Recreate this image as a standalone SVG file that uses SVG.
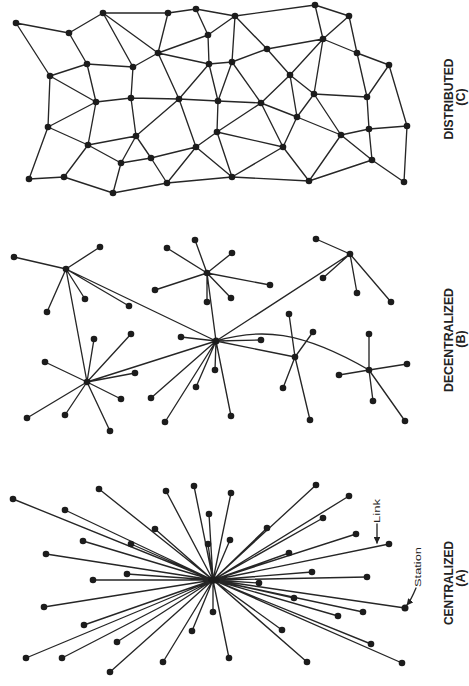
<svg xmlns="http://www.w3.org/2000/svg" width="469" height="686" viewBox="0 0 469 686">
<style>
.l{stroke:#262626;stroke-width:1.35;fill:none;stroke-linecap:round}
.n{fill:#1c1c1c}
.t{font-family:"Liberation Sans Narrow","Liberation Sans",Arial,sans-serif;font-weight:bold;fill:#222;text-anchor:middle}
.s{font-family:"Liberation Sans Narrow","Liberation Sans",Arial,sans-serif;font-weight:normal;fill:#222;text-anchor:middle}
</style>
<defs>
<marker id="ah" viewBox="0 0 10 10" refX="9" refY="5" markerWidth="5" markerHeight="5" orient="auto"><path d="M0,0L10,5L0,10z" fill="#222"/></marker>
</defs>
<rect width="469" height="686" fill="#fff"/>
<g id="connectors">
<!-- Distributed -->
<path class="l" d="M16,23L69,33M16,23L50,76M69,33L103,13M69,33L87,64M103,13L168,13M103,13L133,67M103,13L158,53M168,13L196,9M168,13L158,53M196,9L235,16M196,9L208,35M208,35L235,16M208,35L158,53M208,35L209,64M158,53L209,64M158,53L179,99M158,53L133,67M209,64L232,62M209,64L179,99M209,64L218,101M232,62L218,101M232,62L235,16M87,64L133,67M87,64L50,76M87,64L96,102M133,67L131,98M50,76L96,102M50,76L48,127M96,102L131,98M96,102L48,127M96,102L88,145M131,98L179,99M131,98L136,136M179,99L218,101M179,99L136,136M179,99L196,147M218,101L217,132M48,127L88,145M48,127L29,179M136,136L88,145M136,136L121,163M136,136L151,158M88,145L121,163M88,145L64,177M217,132L196,147M217,132L232,177M196,147L151,158M196,147L167,183M196,147L232,177M151,158L121,163M151,158L167,183M121,163L113,193M29,179L64,177M64,177L113,193M113,193L167,183M167,183L232,177"/>
<path class="l" d="M235,16L315,5M315,5L349,16M315,5L323,39M349,16L323,39M349,16L357,53M235,16L267,49M267,49L323,39M232,62L267,49M267,49L290,75M323,39L290,75M323,39L314,94M323,39L357,53M357,53L389,65M357,53L367,97M389,65L367,97M389,65L407,126M290,75L314,94M290,75L261,103M290,75L297,117M314,94L367,97M314,94L297,117M314,94L341,135M367,97L369,129M261,103L218,101M261,103L232,62M261,103L217,132M261,103L297,117M261,103L283,147M217,132L283,147M283,147L232,177M283,147L309,181M297,117L283,147M297,117L341,135M341,135L369,129M341,135L309,181M341,135L372,160M369,129L407,126M369,129L372,160M407,126L404,182M372,160L404,182M372,160L309,181M309,181L232,177"/>
<!-- Decentralized -->
<path class="l" d="M66,269L14,257M66,269L100,247M66,269L47,312M66,269L85,299M66,269L129,306M66,269L87,382M66,269L216,341M87,382L45,362M87,382L94,339M87,382L131,334M87,382L135,373M87,382L121,399M87,382L110,431M87,382L65,415M87,382L27,418M87,382L216,341M207,273L167,248M207,273L195,240M207,273L232,253M207,273L155,290M207,273L207,302M207,273L231,298M207,273L270,285M207,273L216,341M216,341L181,337M216,341L215,370M216,341L196,387M216,341L151,398M216,341L165,422M216,341L231,416M216,341L261,340M216,341L350,254M216,341L295,357M350,254L316,239M350,254L323,278M350,254L357,293M350,254L391,302M295,357L289,314M295,357L313,332M295,357L283,388M295,357L310,420M369,370L369,334M369,370L407,364M369,370L339,375M369,370L373,401M369,370L405,421"/>
<path class="l" d="M216,341C260,328 300,330 369,370"/>
<!-- Centralized -->
<path class="l" d="M213,580L13,499M213,580L99,489M213,580L166,491M213,580L194,486M213,580L231,493M213,580L65,510M213,580L209,514M213,580L155,529M213,580L131,544M213,580L83,541M213,580L208,544M213,580L230,540M213,580L46,554M213,580L127,574M213,580L93,580M213,580L44,607M213,580L213,612M213,580L84,625M213,580L192,631M213,580L117,642M213,580L26,658M213,580L62,658M213,580L163,662M213,580L229,658M213,580L110,672M213,580L316,485M213,580L349,496M213,580L267,528M213,580L323,518M213,580L356,534M213,580L389,544M213,580L289,553M213,580L312,572M213,580L367,577M213,580L259,583M213,580L294,598M213,580L363,612M213,580L338,616M213,580L405,608M213,580L282,630M213,580L371,644M213,580L402,663M213,580L307,662"/>
<path class="l" d="M377,524L377,543" marker-end="url(#ah)"/>
<path class="l" d="M416,588Q411,600 407,605" marker-end="url(#ah)"/>
</g>
<g id="distributed">
<g id="c1"><circle class="n" cx="16" cy="23" r="3.3"/></g>
<g id="c2"><circle class="n" cx="69" cy="33" r="3.3"/></g>
<g id="c3"><circle class="n" cx="103" cy="13" r="3.3"/></g>
<g id="c4"><circle class="n" cx="168" cy="13" r="3.3"/></g>
<g id="c5"><circle class="n" cx="196" cy="9" r="3.3"/></g>
<g id="c6"><circle class="n" cx="235" cy="16" r="3.3"/></g>
<g id="c7"><circle class="n" cx="208" cy="35" r="3.3"/></g>
<g id="c8"><circle class="n" cx="158" cy="53" r="3.3"/></g>
<g id="c9"><circle class="n" cx="209" cy="64" r="3.3"/></g>
<g id="c10"><circle class="n" cx="232" cy="62" r="3.3"/></g>
<g id="c11"><circle class="n" cx="87" cy="64" r="3.3"/></g>
<g id="c12"><circle class="n" cx="133" cy="67" r="3.3"/></g>
<g id="c13"><circle class="n" cx="50" cy="76" r="3.3"/></g>
<g id="c14"><circle class="n" cx="96" cy="102" r="3.3"/></g>
<g id="c15"><circle class="n" cx="131" cy="98" r="3.3"/></g>
<g id="c16"><circle class="n" cx="179" cy="99" r="3.3"/></g>
<g id="c17"><circle class="n" cx="218" cy="101" r="3.3"/></g>
<g id="c18"><circle class="n" cx="48" cy="127" r="3.3"/></g>
<g id="c19"><circle class="n" cx="136" cy="136" r="3.3"/></g>
<g id="c20"><circle class="n" cx="88" cy="145" r="3.3"/></g>
<g id="c21"><circle class="n" cx="217" cy="132" r="3.3"/></g>
<g id="c22"><circle class="n" cx="196" cy="147" r="3.3"/></g>
<g id="c23"><circle class="n" cx="151" cy="158" r="3.3"/></g>
<g id="c24"><circle class="n" cx="121" cy="163" r="3.3"/></g>
<g id="c25"><circle class="n" cx="29" cy="179" r="3.3"/></g>
<g id="c26"><circle class="n" cx="64" cy="177" r="3.3"/></g>
<g id="c27"><circle class="n" cx="113" cy="193" r="3.3"/></g>
<g id="c28"><circle class="n" cx="167" cy="183" r="3.3"/></g>
<g id="c29"><circle class="n" cx="232" cy="177" r="3.3"/></g>
<g id="c30"><circle class="n" cx="315" cy="5" r="3.3"/></g>
<g id="c31"><circle class="n" cx="349" cy="16" r="3.3"/></g>
<g id="c32"><circle class="n" cx="323" cy="39" r="3.3"/></g>
<g id="c33"><circle class="n" cx="267" cy="49" r="3.3"/></g>
<g id="c34"><circle class="n" cx="357" cy="53" r="3.3"/></g>
<g id="c35"><circle class="n" cx="389" cy="65" r="3.3"/></g>
<g id="c36"><circle class="n" cx="290" cy="75" r="3.3"/></g>
<g id="c37"><circle class="n" cx="314" cy="94" r="3.3"/></g>
<g id="c38"><circle class="n" cx="367" cy="97" r="3.3"/></g>
<g id="c39"><circle class="n" cx="261" cy="103" r="3.3"/></g>
<g id="c40"><circle class="n" cx="297" cy="117" r="3.3"/></g>
<g id="c41"><circle class="n" cx="407" cy="126" r="3.3"/></g>
<g id="c42"><circle class="n" cx="369" cy="129" r="3.3"/></g>
<g id="c43"><circle class="n" cx="341" cy="135" r="3.3"/></g>
<g id="c44"><circle class="n" cx="283" cy="147" r="3.3"/></g>
<g id="c45"><circle class="n" cx="372" cy="160" r="3.3"/></g>
<g id="c46"><circle class="n" cx="309" cy="181" r="3.3"/></g>
<g id="c47"><circle class="n" cx="404" cy="182" r="3.3"/></g>
</g>
<g id="decentralized">
<g id="b-h1"><circle class="n" cx="66" cy="269" r="3.3"/></g>
<g id="b-h2"><circle class="n" cx="87" cy="382" r="3.3"/></g>
<g id="b-h3"><circle class="n" cx="216" cy="341" r="3.5"/></g>
<g id="b-h4"><circle class="n" cx="207" cy="273" r="3.3"/></g>
<g id="b-h5"><circle class="n" cx="350" cy="254" r="3.3"/></g>
<g id="b-h6"><circle class="n" cx="295" cy="357" r="3.3"/></g>
<g id="b-h7"><circle class="n" cx="369" cy="370" r="3.3"/></g>
<g id="b1"><circle class="n" cx="14" cy="257" r="3.3"/></g>
<g id="b2"><circle class="n" cx="100" cy="247" r="3.3"/></g>
<g id="b3"><circle class="n" cx="47" cy="312" r="3.3"/></g>
<g id="b4"><circle class="n" cx="85" cy="299" r="3.3"/></g>
<g id="b5"><circle class="n" cx="129" cy="306" r="3.3"/></g>
<g id="b6"><circle class="n" cx="45" cy="362" r="3.3"/></g>
<g id="b7"><circle class="n" cx="94" cy="339" r="3.3"/></g>
<g id="b8"><circle class="n" cx="131" cy="334" r="3.3"/></g>
<g id="b9"><circle class="n" cx="135" cy="373" r="3.3"/></g>
<g id="b10"><circle class="n" cx="121" cy="399" r="3.3"/></g>
<g id="b11"><circle class="n" cx="110" cy="431" r="3.3"/></g>
<g id="b12"><circle class="n" cx="65" cy="415" r="3.3"/></g>
<g id="b13"><circle class="n" cx="27" cy="418" r="3.3"/></g>
<g id="b14"><circle class="n" cx="167" cy="248" r="3.3"/></g>
<g id="b15"><circle class="n" cx="195" cy="240" r="3.3"/></g>
<g id="b16"><circle class="n" cx="232" cy="253" r="3.3"/></g>
<g id="b17"><circle class="n" cx="155" cy="290" r="3.3"/></g>
<g id="b18"><circle class="n" cx="207" cy="302" r="3.3"/></g>
<g id="b19"><circle class="n" cx="231" cy="298" r="3.3"/></g>
<g id="b20"><circle class="n" cx="270" cy="285" r="3.3"/></g>
<g id="b21"><circle class="n" cx="181" cy="337" r="3.3"/></g>
<g id="b22"><circle class="n" cx="215" cy="370" r="3.3"/></g>
<g id="b23"><circle class="n" cx="196" cy="387" r="3.3"/></g>
<g id="b24"><circle class="n" cx="151" cy="398" r="3.3"/></g>
<g id="b25"><circle class="n" cx="165" cy="422" r="3.3"/></g>
<g id="b26"><circle class="n" cx="231" cy="416" r="3.3"/></g>
<g id="b27"><circle class="n" cx="261" cy="340" r="3.3"/></g>
<g id="b28"><circle class="n" cx="316" cy="239" r="3.3"/></g>
<g id="b29"><circle class="n" cx="323" cy="278" r="3.3"/></g>
<g id="b30"><circle class="n" cx="357" cy="293" r="3.3"/></g>
<g id="b31"><circle class="n" cx="391" cy="302" r="3.3"/></g>
<g id="b32"><circle class="n" cx="289" cy="314" r="3.3"/></g>
<g id="b33"><circle class="n" cx="313" cy="332" r="3.3"/></g>
<g id="b34"><circle class="n" cx="283" cy="388" r="3.3"/></g>
<g id="b35"><circle class="n" cx="310" cy="420" r="3.3"/></g>
<g id="b36"><circle class="n" cx="369" cy="334" r="3.3"/></g>
<g id="b37"><circle class="n" cx="407" cy="364" r="3.3"/></g>
<g id="b38"><circle class="n" cx="339" cy="375" r="3.3"/></g>
<g id="b39"><circle class="n" cx="373" cy="401" r="3.3"/></g>
<g id="b40"><circle class="n" cx="405" cy="421" r="3.3"/></g>
</g>
<g id="centralized">
<g id="a-hub"><ellipse class="n" cx="214" cy="580" rx="6" ry="3.5"/></g>
<g id="a1"><circle class="n" cx="13" cy="499" r="3.3"/></g>
<g id="a2"><circle class="n" cx="99" cy="489" r="3.3"/></g>
<g id="a3"><circle class="n" cx="166" cy="491" r="3.3"/></g>
<g id="a4"><circle class="n" cx="194" cy="486" r="3.3"/></g>
<g id="a5"><circle class="n" cx="231" cy="493" r="3.3"/></g>
<g id="a6"><circle class="n" cx="65" cy="510" r="3.3"/></g>
<g id="a7"><circle class="n" cx="209" cy="514" r="3.3"/></g>
<g id="a8"><circle class="n" cx="155" cy="529" r="3.3"/></g>
<g id="a9"><circle class="n" cx="131" cy="544" r="3.3"/></g>
<g id="a10"><circle class="n" cx="83" cy="541" r="3.3"/></g>
<g id="a11"><circle class="n" cx="208" cy="544" r="3.3"/></g>
<g id="a12"><circle class="n" cx="230" cy="540" r="3.3"/></g>
<g id="a13"><circle class="n" cx="46" cy="554" r="3.3"/></g>
<g id="a14"><circle class="n" cx="127" cy="574" r="3.3"/></g>
<g id="a15"><circle class="n" cx="93" cy="580" r="3.3"/></g>
<g id="a16"><circle class="n" cx="44" cy="607" r="3.3"/></g>
<g id="a17"><circle class="n" cx="213" cy="612" r="3.3"/></g>
<g id="a18"><circle class="n" cx="84" cy="625" r="3.3"/></g>
<g id="a19"><circle class="n" cx="192" cy="631" r="3.3"/></g>
<g id="a20"><circle class="n" cx="117" cy="642" r="3.3"/></g>
<g id="a21"><circle class="n" cx="26" cy="658" r="3.3"/></g>
<g id="a22"><circle class="n" cx="62" cy="658" r="3.3"/></g>
<g id="a23"><circle class="n" cx="163" cy="662" r="3.3"/></g>
<g id="a24"><circle class="n" cx="229" cy="658" r="3.3"/></g>
<g id="a25"><circle class="n" cx="110" cy="672" r="3.3"/></g>
<g id="a26"><circle class="n" cx="316" cy="485" r="3.3"/></g>
<g id="a27"><circle class="n" cx="349" cy="496" r="3.3"/></g>
<g id="a28"><circle class="n" cx="267" cy="528" r="3.3"/></g>
<g id="a29"><circle class="n" cx="323" cy="518" r="3.3"/></g>
<g id="a30"><circle class="n" cx="356" cy="534" r="3.3"/></g>
<g id="a31"><circle class="n" cx="389" cy="544" r="3.3"/></g>
<g id="a32"><circle class="n" cx="289" cy="553" r="3.3"/></g>
<g id="a33"><circle class="n" cx="312" cy="572" r="3.3"/></g>
<g id="a34"><circle class="n" cx="367" cy="577" r="3.3"/></g>
<g id="a35"><circle class="n" cx="259" cy="583" r="3.3"/></g>
<g id="a36"><circle class="n" cx="294" cy="598" r="3.3"/></g>
<g id="a37"><circle class="n" cx="363" cy="612" r="3.3"/></g>
<g id="a38"><circle class="n" cx="338" cy="616" r="3.3"/></g>
<g id="a39"><circle class="n" cx="405" cy="608" r="3.5"/></g>
<g id="a40"><circle class="n" cx="282" cy="630" r="3.3"/></g>
<g id="a41"><circle class="n" cx="371" cy="644" r="3.3"/></g>
<g id="a42"><circle class="n" cx="402" cy="663" r="3.3"/></g>
<g id="a43"><circle class="n" cx="307" cy="662" r="3.3"/></g>
</g>
<g id="labels">
<text class="s" transform="translate(380,511) rotate(-90)" font-size="9" textLength="24" lengthAdjust="spacingAndGlyphs">Link</text>
<text class="s" transform="translate(421,567) rotate(-90)" font-size="9.5" textLength="40" lengthAdjust="spacingAndGlyphs">Station</text>
<text class="t" transform="translate(453,583) rotate(-90)" font-size="12.5" textLength="84" lengthAdjust="spacingAndGlyphs">CENTRALIZED</text>
<text class="t" transform="translate(465,578) rotate(-90)" font-size="12.5">(A)</text>
<text class="t" transform="translate(453,340) rotate(-90)" font-size="12.5" textLength="104" lengthAdjust="spacingAndGlyphs">DECENTRALIZED</text>
<text class="t" transform="translate(465,339) rotate(-90)" font-size="12.5">(B)</text>
<text class="t" transform="translate(453,99) rotate(-90)" font-size="12.5" textLength="81" lengthAdjust="spacingAndGlyphs">DISTRIBUTED</text>
<text class="t" transform="translate(465,97) rotate(-90)" font-size="12.5">(C)</text>
</g>
</svg>
